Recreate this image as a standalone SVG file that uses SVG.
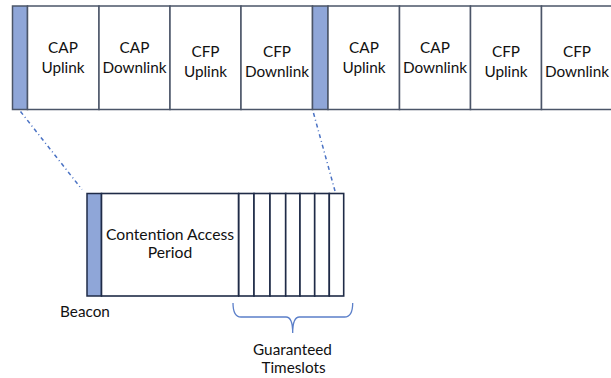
<svg xmlns="http://www.w3.org/2000/svg" width="611" height="378" viewBox="0 0 611 378">
<style>
.cell{fill:#fff;stroke:#4b5568;stroke-width:1.5}
.beacon{fill:#8fa6d8;stroke:#4b5568;stroke-width:1.5}
.slot{fill:#fff;stroke:#1f2b47;stroke-width:1.6}
.t{font-family:Lato,"Open Sans",sans-serif;font-size:15.3px;fill:#111;text-anchor:middle}
.tb{font-size:15.7px}
.dd{stroke:#4a72c4;stroke-width:1.5;stroke-dasharray:4 3 1 3;fill:none}
.brace{stroke:#5b7fc9;stroke-width:1.3;fill:none}
</style>
<g id="frame1">
<g id="beacon1"><rect class="beacon" x="12.5" y="6" width="15" height="103.5"/></g>
<g id="cap-up1"><rect class="cell" x="27.5" y="6" width="71.5" height="103.5"/><text class="t" x="63" y="53">CAP</text><text class="t" x="63" y="73">Uplink</text></g>
<g id="cap-down1"><rect class="cell" x="99" y="6" width="71" height="103.5"/><text class="t" x="134.5" y="53">CAP</text><text class="t" x="134.5" y="73">Downlink</text></g>
<g id="cfp-up1"><rect class="cell" x="170" y="6" width="71" height="103.5"/><text class="t" x="205.5" y="57">CFP</text><text class="t" x="205.5" y="77">Uplink</text></g>
<g id="cfp-down1"><rect class="cell" x="241" y="6" width="71.5" height="103.5"/><text class="t" x="277" y="57">CFP</text><text class="t" x="277" y="77">Downlink</text></g>
</g>
<g id="frame2">
<g id="beacon2"><rect class="beacon" x="312.5" y="6" width="15.5" height="103.5"/></g>
<g id="cap-up2"><rect class="cell" x="328" y="6" width="71.5" height="103.5"/><text class="t" x="364" y="53">CAP</text><text class="t" x="364" y="73">Uplink</text></g>
<g id="cap-down2"><rect class="cell" x="399.5" y="6" width="71" height="103.5"/><text class="t" x="435" y="53">CAP</text><text class="t" x="435" y="73">Downlink</text></g>
<g id="cfp-up2"><rect class="cell" x="470.5" y="6" width="71" height="103.5"/><text class="t" x="506" y="57">CFP</text><text class="t" x="506" y="77">Uplink</text></g>
<g id="cfp-down2"><rect class="cell" x="541.5" y="6" width="80" height="103.5"/><text class="t" x="577" y="57">CFP</text><text class="t" x="577" y="77">Downlink</text></g>
</g>
<g id="connectors">
<line class="dd" x1="20.5" y1="111.5" x2="82" y2="189.5"/>
<line class="dd" x1="313.5" y1="113" x2="335" y2="191"/>
<path class="brace" d="M233,303 Q233,317 241,317 L286,317 Q292.7,317 292.7,333 Q292.7,317 299.4,317 L344.5,317 Q352.7,317 352.7,303"/>
</g>
<g id="detail">
<g id="beacon-detail"><rect class="beacon" x="87" y="193.5" width="14.5" height="102.5" style="stroke:#1f2b47"/></g>
<g id="cap-detail"><rect class="slot" x="101.5" y="193.5" width="137" height="102.5"/><text class="t tb" x="170" y="240">Contention Access</text><text class="t tb" x="170" y="258">Period</text></g>
<g id="gts">
<rect class="slot" x="238.8" y="193.5" width="15.2" height="102.5"/>
<rect class="slot" x="254" y="193.5" width="16" height="102.5"/>
<rect class="slot" x="270" y="193.5" width="15.7" height="102.5"/>
<rect class="slot" x="285.7" y="193.5" width="14.3" height="102.5"/>
<rect class="slot" x="300" y="193.5" width="14.7" height="102.5"/>
<rect class="slot" x="314.7" y="193.5" width="14.6" height="102.5"/>
<rect class="slot" x="329.3" y="193.5" width="14.4" height="102.5"/>
</g>
</g>
<g id="labels">
<text class="t" x="85" y="317">Beacon</text>
<text class="t" x="292.5" y="355">Guaranteed</text>
<text class="t" x="293.5" y="373">Timeslots</text>
</g>
</svg>
